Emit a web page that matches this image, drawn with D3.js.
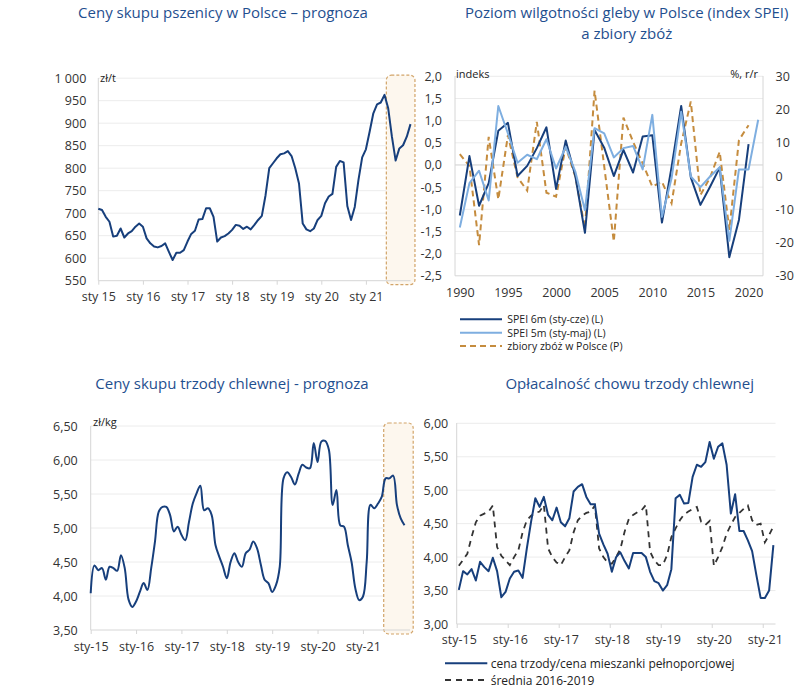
<!DOCTYPE html>
<html><head><meta charset="utf-8">
<script src="https://cdn.jsdelivr.net/npm/d3@7"></script>
<style>
body{margin:0;background:#fff;}
svg{display:block;font-family:"Open Sans",sans-serif;}
</style></head><body>
<svg id="c" width="800" height="691"></svg>
<script>
// ---------- DATA ----------
// Panel 1: wheat prices, monthly Jan 2015 .. Jan 2022 (zł/t)
const wheatPrice = [
  710, 707, 692, 681, 648, 650, 666, 646, 655, 660, 670, 677,
  670, 644, 633, 626, 624, 627, 633, 614, 596, 612, 612, 618,
  637, 654, 661, 686, 687, 711, 711, 692, 637, 646, 649, 655,
  663, 674, 672, 665, 670, 664, 674, 685, 694, 740, 800, 811,
  822, 831, 833, 838, 827, 800, 766, 677, 664, 660, 666, 685,
  694, 722, 737, 743, 803, 816, 813, 716, 685, 714, 774, 824,
  842, 881, 922, 942, 946, 963, 933, 870, 817, 844, 851, 870, 898
];
const wheatTicks = [550, 600, 650, 700, 750, 800, 850, 900, 950, 1000];
const yearLabelsSpace = ["sty 15", "sty 16", "sty 17", "sty 18", "sty 19", "sty 20", "sty 21"];
const forecastStart = 77.5; // month index where "prognoza" begins

// Panel 2: SPEI index and cereal harvest
const speiYears = d3.range(1990, 2022);
const spei6m = [-1.14, 0.20, -0.92, -0.41, 0.77, 0.95, -0.25, -0.02, 0.38, 0.85,
  -0.54, 0.55, -0.25, -1.53, 0.79, 0.39, -0.25, 0.34, -0.17, 0.64,
  0.67, -1.30, -0.05, 1.33, -0.28, -0.90, -0.49, -0.06, -2.08, -1.24, 0.47, null];
const spei5m = [-1.41, -0.41, -0.13, -0.80, 1.33, 0.71, 0.05, 0.23, 0.13, 0.58,
  -0.08, 0.41, -0.15, -1.02, 0.83, 0.71, 0.17, 0.38, 0.43, -0.10,
  1.13, -1.17, -0.30, 1.20, -0.26, -0.50, -0.26, -0.05, -1.71, -0.10, -0.10, 1.02];
const harvestYoY = [6.6, 3.0, -20.8, 11.8, -7.0, 12.3, -0.4, -4.4, 16.3, -5.0,
  -6.2, 8.8, -0.2, -15.7, 25.7, 3.0, -19.7, 17.6, 10.3, 3.8,
  -3.2, -1.7, -8.2, 9.8, 22.4, -5.7, -0.4, 7.3, -16.2, 10.8, 15.3, null];
const speiTicksL = [-2.5, -2, -1.5, -1, -0.5, 0, 0.5, 1, 1.5, 2];
const speiTicksR = [-30, -20, -10, 0, 10, 20, 30];
const speiYearTicks = [1990, 1995, 2000, 2005, 2010, 2015, 2020];
const speiLegend = ["SPEI 6m (sty-cze) (L)", "SPEI 5m (sty-maj) (L)", "zbiory zbóż w Polsce (P)"];

// Panel 3: pig prices, monthly Jan 2015 .. Dec 2021 (zł/kg)
const pigPrice = [
  4.04, 4.45, 4.38, 4.41, 4.24, 4.43, 4.41, 4.37, 4.60, 4.41, 3.95, 3.84,
  3.92, 4.06, 4.19, 4.09, 4.41, 4.80, 5.24, 5.31, 5.31, 5.19, 4.95, 5.02,
  4.90, 4.82, 5.09, 5.36, 5.51, 5.62, 5.26, 5.29, 5.19, 4.75, 4.58, 4.43,
  4.26, 4.50, 4.63, 4.50, 4.43, 4.63, 4.68, 4.80, 4.70, 4.46, 4.24, 4.19,
  4.06, 4.16, 4.43, 5.73, 5.82, 5.75, 5.64, 5.80, 5.93, 5.89, 5.88, 6.25,
  5.97, 6.27, 6.28, 6.15, 5.34, 5.56, 5.04, 5.02, 4.75, 4.50, 4.11, 3.94,
  3.99, 4.50, 5.34, 5.29, 5.36, 5.46, 5.73, 5.73, 5.77, 5.34, 5.14, 5.04
];
const pigTicks = [3.5, 4, 4.5, 5, 5.5, 6, 6.5];
const yearLabelsDash = ["sty-15", "sty-16", "sty-17", "sty-18", "sty-19", "sty-20", "sty-21"];

// Panel 4: profitability ratio, monthly Jan 2015 .. Mar 2021
const pigFeedRatio = [
  3.51, 3.79, 3.74, 3.82, 3.65, 3.93, 3.85, 3.79, 3.99, 3.79, 3.40, 3.48,
  3.68, 3.78, 3.80, 3.69, 4.13, 4.53, 4.88, 4.75, 4.90, 4.63, 4.55, 4.74,
  4.52, 4.46, 4.58, 4.98, 5.05, 5.09, 4.90, 4.79, 4.79, 4.35, 4.19, 4.05,
  3.78, 4.00, 4.07, 3.94, 3.83, 4.06, 4.06, 4.06, 4.00, 3.78, 3.64, 3.61,
  3.50, 3.58, 3.82, 4.88, 4.93, 4.80, 4.81, 5.20, 5.38, 5.35, 5.42, 5.72,
  5.47, 5.65, 5.70, 5.38, 4.65, 4.94, 4.39, 4.39, 4.25, 4.09, 3.73, 3.39,
  3.39, 3.50, 4.18
];
const avg2016_2019 = [
  3.87, 3.96, 4.05, 4.30, 4.52, 4.62, 4.65, 4.68, 4.77, 4.15, 4.02, 3.95,
  3.88, 4.00, 4.10, 4.37, 4.55, 4.62, 4.66, 4.68, 4.78, 4.13, 4.00, 3.92,
  3.88, 4.00, 4.10, 4.37, 4.55, 4.62, 4.66, 4.68, 4.77, 4.13, 4.00, 3.92,
  3.90, 4.00, 4.12, 4.38, 4.57, 4.63, 4.67, 4.70, 4.78, 4.08, 3.95, 3.88,
  3.88, 4.03, 4.30, 4.43, 4.55, 4.64, 4.68, 4.72, 4.75, 4.53, 4.48, 4.54,
  3.87, 4.00, 4.15, 4.35, 4.48, 4.60, 4.66, 4.72, 4.77, 4.55, 4.48, 4.50,
  4.22, 4.33, 4.46
];
const ratioTicks = [3, 3.5, 4, 4.5, 5, 5.5, 6];
const ratioLegend = ["cena trzody/cena mieszanki pełnoporcjowej", "średnia 2016-2019"];

// ---------- STYLE ----------
const TITLE = "#1f4f8f", TXT = "#333", GRID = "#ececec", AXIS = "#d6d6d6";
const NAVY = "#173f7c", LIGHT = "#7eaee0", GOLD = "#c58c3e", DARK = "#333";
const FONT = "'Open Sans', sans-serif";
const loc = d3.formatLocale({decimal: ",", thousands: " ", grouping: [3], currency: ["", ""], minus: "-"});
const f0 = loc.format(",.0f"), f1 = loc.format(".1f"), f2 = loc.format(".2f"), fi = loc.format("d");

const svg = d3.select("#c");
svg.append("rect").attr("width", 800).attr("height", 691).attr("fill", "#fff");

function title(lines, cx, cy, gap) {
  lines.forEach((t, i) => svg.append("text").attr("x", cx).attr("y", cy + i * gap)
    .attr("text-anchor", "middle").attr("dominant-baseline", "central")
    .attr("font-size", 15).attr("fill", TITLE).text(t));
}
function styleAxis(g, size) {
  g.attr("font-family", FONT).attr("font-size", size);
  g.selectAll("text").attr("fill", TXT);
  g.selectAll("line").attr("stroke", AXIS);
  g.select(".domain").remove();
}
function grid(x0, x1, y, ticks, color) {
  svg.append("g").selectAll("line").data(ticks).join("line")
    .attr("x1", x0).attr("x2", x1).attr("y1", d => y(d)).attr("y2", d => y(d))
    .attr("stroke", d => (color && color(d)) || GRID).attr("stroke-width", 1);
}
function frame(x0, x1, y0, y1) {
  svg.append("line").attr("x1", x0).attr("x2", x0).attr("y1", y0).attr("y2", y1).attr("stroke", AXIS);
  svg.append("line").attr("x1", x0).attr("x2", x1).attr("y1", y1).attr("y2", y1).attr("stroke", AXIS);
}
function unit(t, x, y, anchor) {
  svg.append("text").attr("x", x).attr("y", y).attr("dominant-baseline", "central")
    .attr("text-anchor", anchor || "start").attr("font-size", 11).attr("fill", "#222").text(t);
}
function forecastBox(x, y, start, end) {
  const [yb, yt] = y.range();
  svg.append("rect").attr("x", x(start)).attr("y", yt - 3)
    .attr("width", x(end) - x(start)).attr("height", yb - yt + 7)
    .attr("rx", 5).attr("fill", "#fdf7ee").attr("stroke", "#d2a468")
    .attr("stroke-width", 1.2).attr("stroke-dasharray", "3,2");
}

// ---------- PANEL 1 ----------
{
  const x = d3.scaleLinear().domain([0, wheatPrice.length - 1]).range([98.3, 410.5]);
  const y = d3.scaleLinear().domain([550, 1000]).range([280.7, 78.2]);
  title(["Ceny skupu pszenicy w Polsce – prognoza"], 223, 12, 0);
  grid(98.3, 410.5, y, wheatTicks.slice(1));
  forecastBox(x, y, forecastStart, 85.2);
  frame(98.3, 410.5, 78, 280.7);
  const ya = svg.append("g").attr("transform", "translate(98.3,0)")
    .call(d3.axisLeft(y).tickValues(wheatTicks).tickFormat(f0).tickSize(0).tickPadding(12));
  styleAxis(ya, 12.5);
  const xa = svg.append("g").attr("transform", "translate(0,280.7)")
    .call(d3.axisBottom(x).tickValues(yearLabelsSpace.map((d, i) => i * 12))
      .tickFormat((d, i) => yearLabelsSpace[i]).tickSize(4).tickPadding(7));
  styleAxis(xa, 12.5);
  unit("zł/t", 100, 77);
  svg.append("path").datum(wheatPrice)
    .attr("d", d3.line().x((d, i) => x(i)).y(d => y(d)))
    .attr("fill", "none").attr("stroke", NAVY).attr("stroke-width", 2).attr("stroke-linejoin", "round");
}

// ---------- PANEL 2 ----------
{
  const x = d3.scaleLinear().domain([1989.5, 2021.5]).range([455, 763]);
  const y = d3.scaleLinear().domain([-2.5, 2]).range([275.8, 76.3]);
  const yr = d3.scaleLinear().domain([-30, 30]).range([275.8, 76.3]);
  title(["Poziom wilgotności gleby w Polsce (index SPEI)", "a zbiory zbóż"], 626.7, 12, 21);
  grid(455, 763, y, speiTicksL.slice(1), d => d === 0 ? "#cfcfcf" : null);
  frame(455, 763, 76, 275.8);
  svg.append("line").attr("x1", 763).attr("x2", 763).attr("y1", 76).attr("y2", 275.8).attr("stroke", AXIS);
  const ya = svg.append("g").attr("transform", "translate(455,0)")
    .call(d3.axisLeft(y).tickValues(speiTicksL).tickFormat(f1).tickSize(0).tickPadding(13));
  styleAxis(ya, 12.5);
  const yb = svg.append("g").attr("transform", "translate(763,0)")
    .call(d3.axisRight(yr).tickValues(speiTicksR).tickFormat(fi).tickSize(0).tickPadding(12.5));
  styleAxis(yb, 12.5);
  const xa = svg.append("g").attr("transform", "translate(0,275.8)")
    .call(d3.axisBottom(x).tickValues(speiYearTicks).tickFormat(d3.format("d")).tickSize(0).tickPadding(12));
  styleAxis(xa, 12.5);
  unit("indeks", 456, 73);
  unit("%, r/r", 758, 73, "end");
  const line = d3.line().defined(d => d[1] != null).x(d => x(d[0]));
  svg.append("path").datum(speiYears.map((yy, i) => [yy, harvestYoY[i]]))
    .attr("d", line.y(d => yr(d[1])))
    .attr("fill", "none").attr("stroke", GOLD).attr("stroke-width", 2).attr("stroke-dasharray", "6,4");
  svg.append("path").datum(speiYears.map((yy, i) => [yy, spei6m[i]]))
    .attr("d", line.y(d => y(d[1])))
    .attr("fill", "none").attr("stroke", NAVY).attr("stroke-width", 2).attr("stroke-linejoin", "round");
  svg.append("path").datum(speiYears.map((yy, i) => [yy, spei5m[i]]))
    .attr("d", line.y(d => y(d[1])))
    .attr("fill", "none").attr("stroke", LIGHT).attr("stroke-width", 2).attr("stroke-linejoin", "round");
  const styles = [[NAVY, null], [LIGHT, null], [GOLD, "6,4"]];
  speiLegend.forEach((t, i) => {
    const yy = 319.3 + i * 13.4;
    svg.append("line").attr("x1", 460).attr("x2", 502).attr("y1", yy).attr("y2", yy)
      .attr("stroke", styles[i][0]).attr("stroke-width", 2).attr("stroke-dasharray", styles[i][1]);
    svg.append("text").attr("x", 507.3).attr("y", yy + 3.8)
      .attr("font-size", 10.5).attr("fill", "#222").text(t);
  });
}

// ---------- PANEL 3 ----------
{
  const x = d3.scaleLinear().domain([0, pigPrice.length - 1]).range([90.7, 404.5]);
  const y = d3.scaleLinear().domain([3.5, 6.5]).range([630, 426]);
  title(["Ceny skupu trzody chlewnej - prognoza"], 232, 382.7, 0);
  grid(90.7, 410, y, pigTicks.slice(1));
  forecastBox(x, y, forecastStart, 85.3);
  frame(90.7, 410, 426, 630);
  const ya = svg.append("g").attr("transform", "translate(90.7,0)")
    .call(d3.axisLeft(y).tickValues(pigTicks).tickFormat(f2).tickSize(0).tickPadding(13));
  styleAxis(ya, 12.5);
  const xa = svg.append("g").attr("transform", "translate(0,630)")
    .call(d3.axisBottom(x).tickValues(yearLabelsDash.map((d, i) => i * 12))
      .tickFormat((d, i) => yearLabelsDash[i]).tickSize(4).tickPadding(8));
  styleAxis(xa, 12.5);
  unit("zł/kg", 93, 421.7);
  svg.append("path").datum(pigPrice)
    .attr("d", d3.line().curve(d3.curveCatmullRom.alpha(0.5)).x((d, i) => x(i)).y(d => y(d)))
    .attr("fill", "none").attr("stroke", NAVY).attr("stroke-width", 2);
}

// ---------- PANEL 4 ----------
{
  const x = d3.scaleLinear().domain([-0.5, pigFeedRatio.length - 0.5]).range([456.7, 775.5]);
  const y = d3.scaleLinear().domain([3, 6]).range([624, 423.3]);
  title(["Opłacalność chowu trzody chlewnej"], 629.7, 382.7, 0);
  grid(456.7, 775.5, y, ratioTicks.slice(1));
  frame(456.7, 775.5, 423, 624);
  const ya = svg.append("g").attr("transform", "translate(456.7,0)")
    .call(d3.axisLeft(y).tickValues(ratioTicks).tickFormat(f2).tickSize(0).tickPadding(8.5));
  styleAxis(ya, 12.5);
  const xt = svg.append("g").attr("transform", "translate(0,624)")
    .call(d3.axisBottom(x).tickValues(yearLabelsDash.map((d, i) => i * 12 - 0.5)).tickFormat("").tickSize(4));
  styleAxis(xt, 12.5);
  const xa = svg.append("g").attr("transform", "translate(0,624)")
    .call(d3.axisBottom(x).tickValues(yearLabelsDash.map((d, i) => i * 12))
      .tickFormat((d, i) => yearLabelsDash[i]).tickSize(0).tickPadding(11.5));
  styleAxis(xa, 12.5);
  svg.append("path").datum(avg2016_2019)
    .attr("d", d3.line().x((d, i) => x(i)).y(d => y(d)))
    .attr("fill", "none").attr("stroke", DARK).attr("stroke-width", 1.8).attr("stroke-dasharray", "6,5");
  svg.append("path").datum(pigFeedRatio)
    .attr("d", d3.line().x((d, i) => x(i)).y(d => y(d)))
    .attr("fill", "none").attr("stroke", NAVY).attr("stroke-width", 2).attr("stroke-linejoin", "round");
  const styles = [[NAVY, null], [DARK, "6,5"]];
  ratioLegend.forEach((t, i) => {
    const yy = 663.3 + i * 16.7;
    svg.append("line").attr("x1", 445).attr("x2", 487.3).attr("y1", yy).attr("y2", yy)
      .attr("stroke", styles[i][0]).attr("stroke-width", 2).attr("stroke-dasharray", styles[i][1]);
    svg.append("text").attr("x", 490.7).attr("y", yy).attr("dominant-baseline", "central")
      .attr("font-size", 12).attr("fill", "#222").text(t);
  });
}
</script>
</body></html>
